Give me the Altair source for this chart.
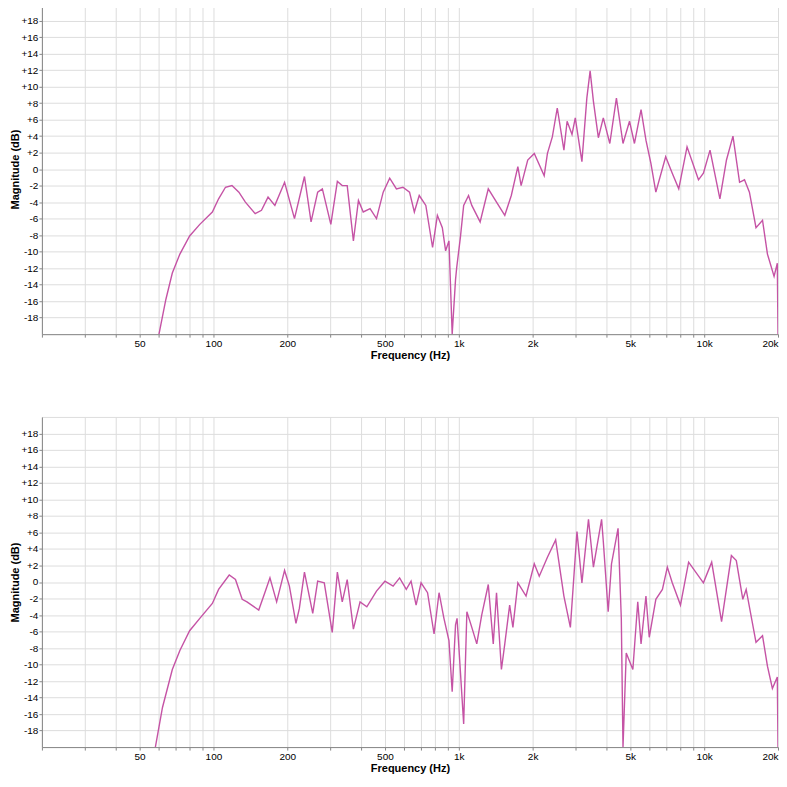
import altair as alt
import pandas as pd

# ---------------- data ----------------
top_freq = [60, 64, 68, 73, 80, 88, 99, 105, 112, 119, 127, 135, 148, 157, 167, 178,
            195, 214, 235, 250, 266, 278, 301, 320, 335, 351, 372, 390, 408, 435, 462,
            492, 523, 557, 592, 630, 659, 690, 734, 782, 818, 857, 884, 912, 940, 970,
            981, 1015, 1047, 1096, 1130, 1222, 1319, 1425, 1540, 1637, 1741, 1795, 1910,
            2031, 2229, 2298, 2406, 2520, 2682, 2764, 2894, 2984, 3176, 3326, 3430, 3538,
            3706, 3882, 4126, 4390, 4670, 4964, 5200, 5532, 5792, 6068, 6356, 6970, 7414,
            7880, 8518, 9484, 9932, 10568, 11594, 12332, 13106, 13944, 14604, 15294,
            16270, 17296, 18114, 19276, 19872, 20000]
top_db = [-20, -15.8, -12.6, -10.3, -8.1, -6.7, -5.2, -3.6, -2.2, -2.0, -2.8, -4.0, -5.4,
          -5.0, -3.4, -4.4, -1.6, -6.0, -0.9, -6.4, -2.8, -2.4, -6.7, -1.5, -2.0, -2.0,
          -8.7, -3.8, -5.2, -4.8, -6.0, -2.8, -1.1, -2.4, -2.2, -2.8, -5.2, -3.2, -4.4,
          -9.5, -5.6, -7.1, -9.9, -8.7, -20, -13.4, -11.9, -8.3, -4.4, -3.2, -4.4, -6.4,
          -2.4, -4.0, -5.6, -3.2, 0.3, -2.0, 1.1, 1.9, -0.8, 1.9, 3.9, 7.4, 2.3, 5.8,
          4.2, 6.2, 0.9, 8.6, 11.9, 8.2, 3.8, 6.2, 3.1, 8.6, 3.1, 5.8, 3.1, 7.2, 3.5,
          0.7, -2.8, 1.5, -0.5, -2.4, 2.7, -1.3, -0.5, 2.3, -3.6, 1.1, 4.0, -1.6, -1.3,
          -2.8, -7.1, -6.2, -10.3, -13.0, -11.4, -20]

bot_freq = [58, 62, 68, 73, 80, 88, 99, 105, 116, 123, 131, 137, 153, 162, 170, 181,
            195, 204, 217, 224, 235, 254, 266, 283, 305, 320, 335, 351, 372, 396, 422,
            462, 500, 540, 574, 611, 639, 670, 702, 746, 793, 831, 870, 912, 940, 970,
            984, 1047, 1079, 1130, 1184, 1240, 1319, 1382, 1425, 1492, 1540, 1612, 1662,
            1741, 1880, 2031, 2128, 2298, 2482, 2682, 2850, 3032, 3176, 3378, 3538, 3820,
            3882, 4064, 4192, 4458, 4596, 4670, 4814, 5122, 5364, 5532, 5792, 5974, 6356,
            6760, 7080, 7414, 8008, 8644, 9932, 10734, 11778, 12914, 13524, 14376, 14836,
            16270, 17296, 18114, 18974, 19872, 20000]
bot_db = [-20, -15.2, -10.6, -8.3, -5.9, -4.4, -2.6, -0.9, 0.85, 0.3, -2.1, -2.4, -3.4,
          -1.3, 0.5, -2.4, 1.4, -0.5, -5.0, -3.2, 1.2, -3.8, 0.1, -0.1, -6.1, 1.2, -2.4,
          0.3, -5.7, -2.4, -3.0, -1.1, 0.1, -0.5, 0.5, -0.9, 0.1, -2.8, -0.1, -1.3, -6.3,
          -1.3, -4.4, -7.1, -13.3, -5.2, -4.4, -17.2, -3.6, -5.5, -7.5, -4.0, -0.3, -7.5,
          -1.3, -10.6, -7.5, -2.8, -5.5, -0.1, -1.7, 2.2, 0.7, 3.0, 5.1, -1.7, -5.5, 6.1,
          -0.1, 7.6, 1.8, 7.6, 4.9, -3.6, 2.2, 6.5, -4.4, -20, -8.6, -10.6, -2.4, -7.5,
          -1.7, -6.7, -2.1, -0.9, 1.8, -0.1, -2.8, 2.4, -0.1, 2.4, -4.8, 3.2, 2.6, -2.1,
          -0.9, -7.3, -6.5, -10.2, -12.9, -11.5, -20]

x_grid = [20, 30, 40, 50, 60, 70, 80, 90,
          100, 200, 300, 400, 500, 600, 700, 800, 900,
          1000, 2000, 3000, 4000, 5000, 6000, 7000, 8000, 9000,
          10000, 20000]
x_labelled = [50, 100, 200, 500, 1000, 2000, 5000, 10000, 20000]
y_ticks = list(range(-18, 19, 2))

LINE_COLOR = "#c24aa0"
GRID_COLOR = "#b8b8b8"
FONT = "Liberation Sans"

conds = " || ".join(f"datum.value == {v}" for v in x_labelled)
x_label_expr = (
    f"({conds}) ? (datum.value >= 1000 ? (datum.value / 1000) + 'k' : '' + datum.value) : ''"
)
y_label_expr = "datum.value > 0 ? '+' + datum.value : '' + datum.value"


def panel(freq, db):
    df = pd.DataFrame({"f": freq, "db": db})
    return alt.Chart(df).mark_line(
        color=LINE_COLOR, strokeWidth=1.4, clip=True, opacity=0.95
    ).encode(
        x=alt.X(
            "f:Q",
            scale=alt.Scale(type="log", domain=[20, 20000], nice=False),
            axis=alt.Axis(
                values=x_grid, labelExpr=x_label_expr, title="Frequency (Hz)",
                labelOverlap=False, labelFlush=True, tickSize=3,
                labelPadding=1, titlePadding=1,
            ),
        ),
        y=alt.Y(
            "db:Q",
            scale=alt.Scale(domain=[-20, 20], nice=False),
            axis=alt.Axis(
                values=y_ticks, labelExpr=y_label_expr, title="Magnitude (dB)",
                tickSize=3, labelPadding=1, titlePadding=1,
            ),
        ),
    ).properties(width=738, height=331)


chart = alt.vconcat(
    panel(top_freq, top_db), panel(bot_freq, bot_db), spacing=55
).configure_axis(
    labelFont=FONT, titleFont=FONT,
    labelFontSize=6.5, titleFontSize=6.5,
    labelFontWeight="bold", titleFontWeight="bold",
    labelColor="#333333", titleColor="#333333",
    gridColor=GRID_COLOR, gridWidth=1, gridOpacity=1,
    domainColor="#8a8a8a", domainWidth=1.5,
    tickColor="#8a8a8a",
).configure_view(
    stroke="#9a9a9a", strokeWidth=1.5
).configure(padding={"left": 0, "top": -6, "right": 0, "bottom": 0})

chart.save("out.html", embed_options={"renderer": "svg", "actions": False})
